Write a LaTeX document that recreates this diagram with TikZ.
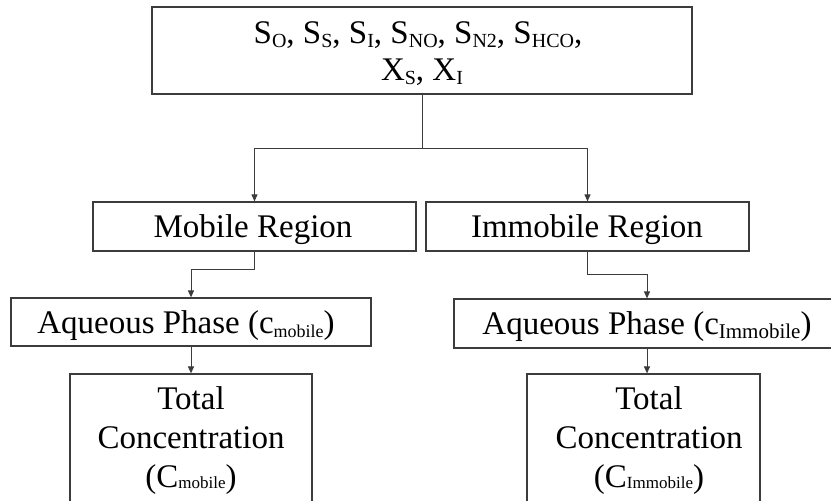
\documentclass[tikz,border=0pt]{standalone}
\usepackage{fontspec}
\setmainfont{Liberation Serif}
\usetikzlibrary{arrows.meta}

% subscripts of the species and phase labels
\newcommand{\sbt}[1]{\raisebox{-4pt}{\fontsize{20}{20}\selectfont #1}}
\newcommand{\sba}[1]{\raisebox{-4pt}{\fontsize{18}{18}\selectfont #1}}
\newcommand{\sbb}[1]{\raisebox{-4pt}{\fontsize{21}{21}\selectfont #1}}
\newcommand{\sbc}[1]{\raisebox{-1pt}{\fontsize{17}{17}\selectfont #1}}

\definecolor{edge}{HTML}{3C3C3C}

\tikzset{
  box/.style={draw=edge, line width=1.2pt, rectangle, inner sep=0pt},
  txt/.style={anchor=base, inner sep=0pt, font=\fontsize{33}{37}\selectfont},
  link/.style={draw=edge, line width=1pt},
  arr/.style={link, -{Triangle[length=7pt,width=6pt]}}
}

\begin{document}
\begin{tikzpicture}[x=1pt,y=-1pt]
\useasboundingbox (0,0) rectangle (831,501);
\clip (0,0) rectangle (831,501);

% boxes
\node[box, minimum width=540pt, minimum height=87pt] (top) at (422,50.5) {};
\node[box, minimum width=323pt, minimum height=49pt] (mob) at (254.5,226.5) {};
\node[box, minimum width=323pt, minimum height=49pt] (imm) at (587.5,226.5) {};
\node[box, minimum width=360pt, minimum height=48pt] (aqm) at (191,322) {};
\node[box, minimum width=386pt, minimum height=49pt] (aqi) at (647,323.5) {};
\node[box, minimum width=242pt, minimum height=160pt] (totm) at (191,454) {};
\node[box, minimum width=233pt, minimum height=160pt] (toti) at (643.5,454) {};

% texts
\node[txt] (t1) at (418,43) {S\sbt{O}, S\sbt{S}, S\sbt{I}, S\sbt{NO}, S\sbt{N2}, S\sbt{HCO},};
\node[txt] (t2) at (422,80) {X\sbt{S}, X\sbt{I}};
\node[txt] (tm) at (253,237) {Mobile Region};
\node[txt] (ti) at (587,237) {Immobile Region};
\node[txt] (tam) at (186,333) {Aqueous Phase (c\sba{mobile})};
\node[txt] (tai) at (647,334) {Aqueous Phase (c\sbb{Immobile})};
\node[txt] (cm1) at (191,409) {Total};
\node[txt] (cm2) at (191,448) {Concentration};
\node[txt] (cm3) at (191,487) {(C\sbc{mobile})};
\node[txt] (ci1) at (649,409) {Total};
\node[txt] (ci2) at (649,448) {Concentration};
\node[txt] (ci3) at (649,487) {(C\sbc{Immobile})};

% connectors
\draw[link] (top.south) -- ++(0,54) coordinate (split);
\draw[arr] (split) -| (mob.north);
\draw[arr] (split) -| (imm.north);
\draw[arr] (mob.south) -- ++(0,18) -| (aqm.north);
\draw[arr] (imm.south) -- ++(0,23) -| (aqi.north);
\draw[arr] (aqm.south) -- (totm.north);
\draw[arr] (aqi.south) -- (aqi.south |- toti.north);
\end{tikzpicture}
\end{document}
